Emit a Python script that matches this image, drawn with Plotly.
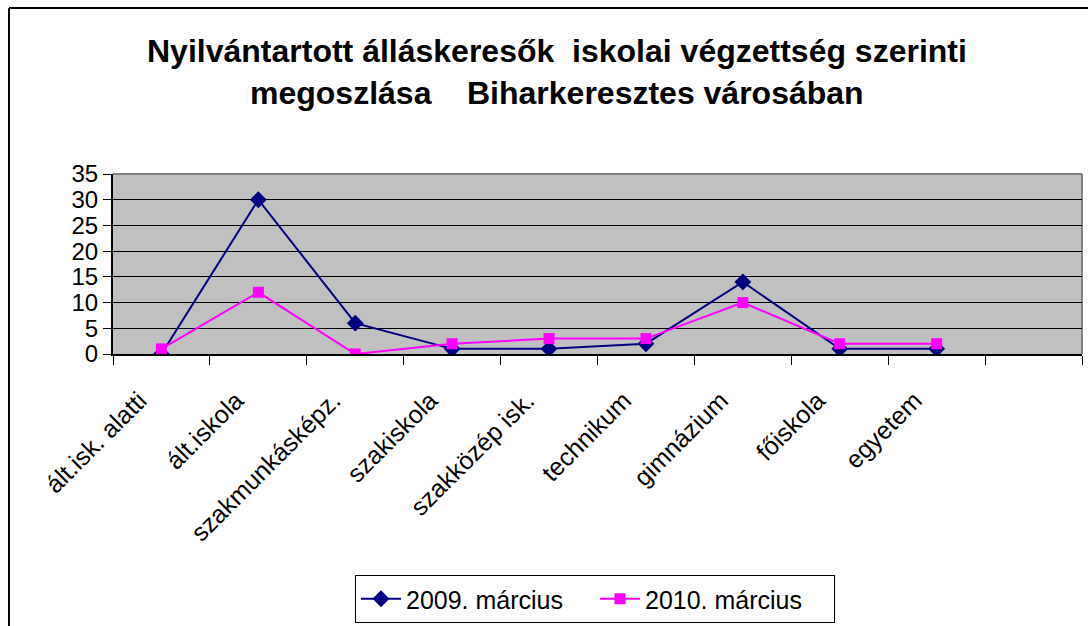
import plotly.graph_objects as go

categories = ["ált.isk. alatti", "ált.iskola", "szakmunkásképz.", "szakiskola",
              "szakközép isk.", "technikum", "gimnázium", "főiskola", "egyetem"]
extra_category = [" "]
values_2009 = [0, 30, 6, 1, 1, 2, 14, 1, 1]
values_2010 = [1, 12, 0, 2, 3, 3, 10, 2, 2]
series_names = ["2009. március", "2010. március"]
title_lines = ["Nyilvántartott álláskeresők\u00a0\u00a0iskolai végzettség szerinti",
               "megoszlása\u00a0\u00a0\u00a0\u00a0Biharkeresztes városában"]
y_ticks = [0, 5, 10, 15, 20, 25, 30, 35]

FONT = "Liberation Sans, Arial, sans-serif"
W, H = 1088, 626
L, R, T, B = 113, 1082, 174, 354

fig = go.Figure()
fig.add_trace(go.Scatter(
    x=categories, y=values_2009, name=series_names[0], mode="lines+markers",
    line=dict(color="#000080", width=2),
    marker=dict(symbol="diamond", size=13, color="#000080")))
fig.add_trace(go.Scatter(
    x=categories, y=values_2010, name=series_names[1], mode="lines+markers",
    line=dict(color="#FF00FF", width=2),
    marker=dict(symbol="square", size=11, color="#FF00FF")))

def px(x):
    return (x - L) / (R - L)

def py(y):
    return (B - y) / (B - T)

shapes = [
    dict(type="line", xref="paper", yref="paper", x0=px(9), x1=px(9), y0=py(8), y1=py(H + 5),
         line=dict(color="#000000", width=2), layer="above"),
    dict(type="line", xref="paper", yref="paper", x0=px(9), x1=px(W + 5), y0=py(8), y1=py(8),
         line=dict(color="#000000", width=2), layer="above"),
    dict(type="line", xref="paper", yref="paper", x0=0, x1=1, y0=1, y1=1,
         line=dict(color="#808080", width=2), layer="below"),
    dict(type="line", xref="paper", yref="paper", x0=1, x1=1, y0=0, y1=1,
         line=dict(color="#808080", width=2), layer="below"),
]

annotations = [
    dict(text=f"<b>{title_lines[0]}</b>", xref="paper", yref="paper", x=px(557), y=py(51),
         xanchor="center", yanchor="middle", showarrow=False,
         font=dict(family=FONT, size=32, color="#000000")),
    dict(text=f"<b>{title_lines[1]}</b>", xref="paper", yref="paper", x=px(557), y=py(93),
         xanchor="center", yanchor="middle", showarrow=False,
         font=dict(family=FONT, size=32, color="#000000")),
]

fig.update_layout(
    width=W, height=H,
    margin=dict(l=L, r=W - R, t=T, b=H - B, pad=0, autoexpand=False),
    paper_bgcolor="#FFFFFF", plot_bgcolor="#C0C0C0",
    font=dict(family=FONT, size=25, color="#000000"),
    shapes=shapes, annotations=annotations,
    showlegend=True,
    legend=dict(orientation="h", xref="container", yref="container",
                x=595 / W, y=1 - 575 / H, xanchor="center", yanchor="top",
                bordercolor="#000000", borderwidth=1, bgcolor="#FFFFFF",
                font=dict(family=FONT, size=25, color="#000000"),
                itemwidth=40, tracegroupgap=0, entrywidth=184, entrywidthmode="pixels"),
)

fig.update_xaxes(
    type="category", categoryorder="array", categoryarray=categories + extra_category,
    range=[-0.5, len(categories) + len(extra_category) - 0.5],
    tickson="boundaries", ticks="outside", ticklen=9, tickcolor="#000000", tickwidth=1,
    tickangle=-45, ticklabelstandoff=20, ticklabelshift=-22,
    tickfont=dict(family=FONT, size=25, color="#000000"),
    showline=True, linecolor="#000000", linewidth=2, showgrid=False, zeroline=False,
)
fig.update_yaxes(
    range=[0, 35], tickvals=y_ticks, ticks="outside", ticklen=8, tickcolor="#000000",
    tickfont=dict(family=FONT, size=24, color="#000000"),
    showline=True, linecolor="#000000", linewidth=2,
    showgrid=True, gridcolor="#000000", gridwidth=1, zeroline=False,
)

fig.write_html("out.html", config={"displayModeBar": False},
               post_script="document.body.style.margin='0px';")
